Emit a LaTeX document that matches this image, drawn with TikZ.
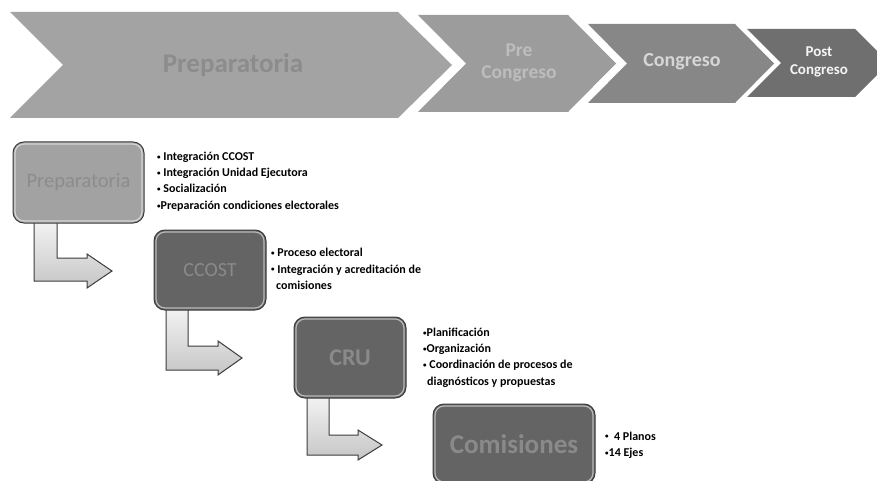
\documentclass[tikz,border=0pt]{standalone}
\usepackage{fontspec}
\setmainfont{Carlito}
\definecolor{chA}{HTML}{A3A3A3}
\definecolor{chAt}{HTML}{8C8C8C}
\definecolor{chB}{HTML}{9C9C9C}
\definecolor{chBt}{HTML}{BDBDBD}
\definecolor{chC}{HTML}{878787}
\definecolor{chCt}{HTML}{D6D6D6}
\definecolor{chD}{HTML}{6F6F6F}
\definecolor{chDt}{HTML}{F5F5F5}
\definecolor{boxL}{HTML}{A2A2A2}
\definecolor{boxD}{HTML}{646464}
\definecolor{boxT}{HTML}{8A8A8A}
\definecolor{edge}{HTML}{3C3C3C}
\newcommand\smbul{{\fontsize{7}{7}\selectfont\raisebox{1.2pt}{•}}}
\tikzset{
  chev/.style={draw=none},
  chevtext/.style={font=\bfseries, align=center, inner sep=0pt},
  stagebox/.style={draw=edge, line width=1pt, rounded corners=11pt, inner sep=0pt},
  hilite/.style={draw=white, opacity=0.55, line width=1.2pt, rounded corners=9pt},
  bentarrow/.style={draw=edge, line width=1pt, top color=gray!10, bottom color=gray!45, line join=miter},
  bullets/.style={anchor=west, align=left, inner sep=0pt, font=\bfseries\fontsize{12}{16.3}\selectfont}
}
\begin{document}
\begin{tikzpicture}[x=1pt, y=-1pt]
\useasboundingbox (0,0) rectangle (877,481);
\clip (0,0) rectangle (877,481);
% top chevrons
\fill[chev, chA] (10,12) -- (398,12) -- (452,65) -- (398,118) -- (10,118) -- (63,65) -- cycle;
\fill[chev, chB] (418,15) -- (568,15) -- (616,63.5) -- (568,112) -- (418,112) -- (466,63.5) -- cycle;
\fill[chev, chC] (588,24) -- (735,24) -- (774,63.5) -- (735,103) -- (588,103) -- (627,63.5) -- cycle;
\fill[chev, chD] (747,29) -- (855,29) -- (889,63) -- (855,97) -- (747,97) -- (781,63) -- cycle;
\node[chevtext, text=chAt, font=\bfseries\fontsize{27}{30}\selectfont] (t1) at (233,65) {Preparatoria};
\node[chevtext, text=chBt, font=\bfseries\fontsize{19.5}{22}\selectfont] (t2) at (519,63) {Pre\\Congreso};
\node[chevtext, text=chCt, font=\bfseries\fontsize{20}{22}\selectfont] (t3) at (682,62) {Congreso};
\node[chevtext, text=chDt, font=\bfseries\fontsize{15}{18}\selectfont] (t4) at (819,62) {Post\\Congreso};
% bent arrows
\draw[bentarrow] (34,222) -- (57,222) -- (57,258) -- (87,258) -- (87,254) -- (112,271) -- (87,288) -- (87,281) -- (34,281) -- cycle;
\draw[bentarrow] (166,309) -- (188,309) -- (188,346) -- (218,346) -- (218,341) -- (242,358) -- (218,375) -- (218,370) -- (166,370) -- cycle;
\draw[bentarrow] (307,397) -- (329,397) -- (329,435) -- (358,435) -- (358,430) -- (382,445) -- (358,460) -- (358,455) -- (307,455) -- cycle;
% boxes
\node[stagebox, fill=boxL, text=chAt, minimum width=131pt, minimum height=81pt, font=\fontsize{20.5}{22}\selectfont] (b1) at (78.5,182.5) {Preparatoria};
\node[stagebox, fill=boxD, text=boxT, minimum width=112pt, minimum height=80pt, font=\fontsize{20}{22}\selectfont] (b2) at (210,270) {CCOST};
\node[stagebox, fill=boxD, text=boxT, minimum width=112pt, minimum height=81pt, font=\bfseries\fontsize{24}{26}\selectfont] (b3) at (350,357.5) {CRU};
\node[stagebox, fill=boxD, text=boxT, minimum width=162pt, minimum height=80pt, font=\bfseries\fontsize{27}{30}\selectfont] (b4) at (514,444) {Comisiones};
\foreach \b in {b1,b2,b3,b4}{
  \draw[hilite] ([shift={(2.5pt,-2.5pt)}]\b.north west) rectangle ([shift={(-2.5pt,2.5pt)}]\b.south east);
}
% bullet texts
\node[bullets] (l1) at (157,181.5) {\smbul\ Integración CCOST\\\smbul\ Integración Unidad Ejecutora\\\smbul\ Socialización\\\smbul Preparación condiciones electorales};
\node[bullets] (l2) at (271,269) {\smbul\ Proceso electoral\\\smbul\ Integración y acreditación de\\\hspace*{5pt}comisiones};
\node[bullets] (l3) at (423,357.5) {\smbul Planificación\\\smbul Organización\\\smbul\ Coordinación de procesos de\\\hspace*{4pt}diagnósticos y propuestas};
\node[bullets] (l4) at (605,445) {\smbul\ \ 4 Planos\\\smbul 14 Ejes};
\end{tikzpicture}
\end{document}
